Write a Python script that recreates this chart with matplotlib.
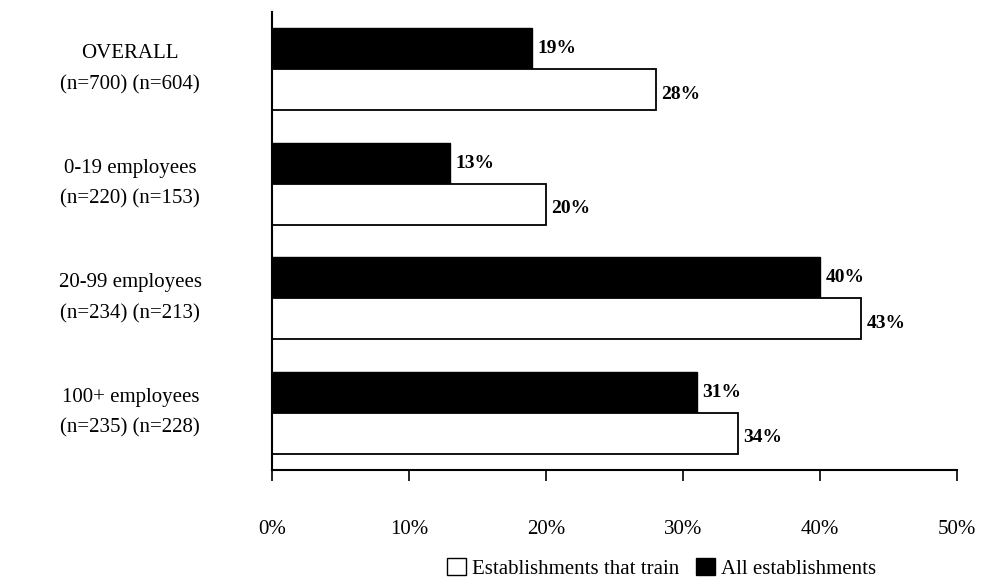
#!/usr/bin/env python3

import matplotlib
matplotlib.use("Agg")
import matplotlib.pyplot as plt
import matplotlib.patches as mpatches
import numpy as np


CATEGORIES = [
    "OVERALL\n(n=700) (n=604)",
    "0-19 employees\n(n=220) (n=153)",
    "20-99 employees\n(n=234) (n=213)",
    "100+ employees\n(n=235) (n=228)",
]
ALL_ESTABLISHMENTS = [19, 13, 40, 31]
THAT_TRAIN = [28, 20, 43, 34]
XTICKS = [0, 10, 20, 30, 40, 50]

SERIF = "Liberation Serif"
BAR_H = 0.356


def main():
    plt.rcParams["font.family"] = [SERIF, "DejaVu Serif"]
    fig = plt.figure(figsize=(9.83, 5.88), dpi=100)
    ax = fig.add_axes([0.2767, 0.2007, 0.6968, 0.7789])

    y = np.arange(len(CATEGORIES))
    ax.barh(y - BAR_H / 2, ALL_ESTABLISHMENTS, height=BAR_H,
            color="black", edgecolor="black", linewidth=1)
    ax.barh(y + BAR_H / 2, THAT_TRAIN, height=BAR_H,
            color="white", edgecolor="black", linewidth=1.3)

    # value labels just past the end of each bar
    for yi, v in zip(y, ALL_ESTABLISHMENTS):
        ax.text(v + 0.4, yi - BAR_H / 2, f"{v}%", ha="left", va="center",
                fontsize=14, fontweight="bold")
    for yi, v in zip(y, THAT_TRAIN):
        ax.text(v + 0.4, yi + BAR_H / 2 + 0.04, f"{v}%", ha="left", va="center",
                fontsize=14, fontweight="bold")

    ax.set_xlim(0, 50)
    ax.set_ylim(3.5, -0.5)
    ax.set_xticks(XTICKS)
    ax.set_xticklabels([f"{t}%" for t in XTICKS], fontsize=15)
    ax.tick_params(axis="x", length=8, width=1.2, pad=28)

    ax.set_yticks(y)
    ax.set_yticklabels(CATEGORIES, fontsize=15, ha="center", va="center",
                       linespacing=1.85)
    ax.tick_params(axis="y", length=0, pad=102)

    for side in ("top", "right"):
        ax.spines[side].set_visible(False)
    for side in ("left", "bottom"):
        ax.spines[side].set_linewidth(1.5)

    handles = [
        mpatches.Patch(facecolor="white", edgecolor="black", linewidth=1,
                       label="Establishments that train"),
        mpatches.Patch(facecolor="black", edgecolor="black",
                       label="All establishments"),
    ]
    fig.legend(handles=handles, loc="center", bbox_to_anchor=(0.673, 0.033),
               ncol=2, frameon=False, fontsize=15, handlelength=0.9,
               handleheight=0.9, handletextpad=0.3, columnspacing=0.8)

    fig.savefig("out.png", dpi=100)


if __name__ == "__main__":
    main()
